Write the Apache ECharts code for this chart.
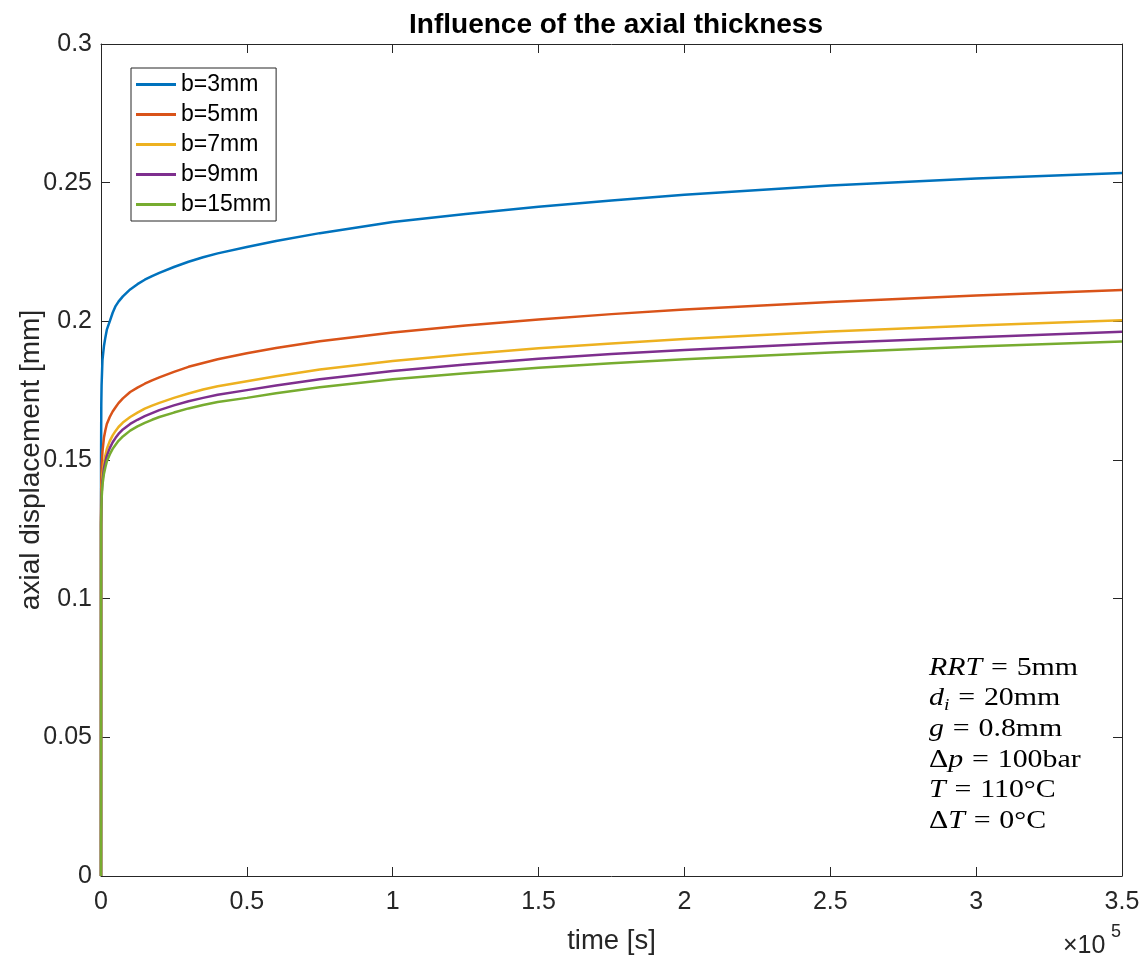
<!DOCTYPE html>
<html>
<head>
<meta charset="utf-8">
<script src="https://cdn.jsdelivr.net/npm/echarts@6/dist/echarts.min.js"></script>
<style>
html,body{margin:0;padding:0;background:#fff;}
#chart{width:1148px;height:956px;}
</style>
</head>
<body>
<div id="chart"></div>
<script>
// time in seconds
const timeS = [0, 20, 100, 200, 500, 1000, 1500, 2000, 3000, 4000, 5000, 6000, 7500, 10000, 12500, 15000, 17500, 20000, 25000, 30000, 35000, 40000, 50000, 60000, 75000, 100000, 125000, 150000, 175000, 200000, 250000, 300000, 350000];
const seriesNames = ['b=3mm', 'b=5mm', 'b=7mm', 'b=9mm', 'b=15mm'];
const b3 = [0, 0.150, 0.170, 0.177, 0.186, 0.191, 0.1942, 0.197, 0.200, 0.2031, 0.2055, 0.2071, 0.209, 0.2115, 0.2134, 0.2150, 0.2163, 0.2175, 0.2196, 0.2215, 0.2231, 0.2245, 0.2268, 0.2290, 0.2318, 0.2358, 0.2387, 0.2413, 0.2436, 0.2456, 0.2490, 0.2515, 0.2535];
const b5 = [0, 0.133, 0.143, 0.147, 0.153, 0.158, 0.1607, 0.163, 0.1655, 0.1675, 0.169, 0.1705, 0.1722, 0.1745, 0.1761, 0.1775, 0.1787, 0.1798, 0.1818, 0.1836, 0.1850, 0.1863, 0.1885, 0.1904, 0.1928, 0.1960, 0.1985, 0.2007, 0.2026, 0.2043, 0.2070, 0.2093, 0.2113];
const b7 = [0, 0.128, 0.135, 0.139, 0.145, 0.149, 0.1517, 0.154, 0.1568, 0.1589, 0.1605, 0.1619, 0.1635, 0.1655, 0.1671, 0.1685, 0.1696, 0.1706, 0.1724, 0.1740, 0.1754, 0.1766, 0.1784, 0.1802, 0.1826, 0.1857, 0.1881, 0.1903, 0.1920, 0.1936, 0.1963, 0.1985, 0.2004];
const b9 = [0, 0.127, 0.134, 0.1375, 0.1425, 0.147, 0.1494, 0.1515, 0.1543, 0.1564, 0.158, 0.1594, 0.161, 0.163, 0.1645, 0.1658, 0.1669, 0.1680, 0.1697, 0.1712, 0.1724, 0.1735, 0.1752, 0.1769, 0.1791, 0.1821, 0.1844, 0.1865, 0.1882, 0.1897, 0.1922, 0.1943, 0.1962];
const b15 = [0, 0.126, 0.1325, 0.136, 0.141, 0.145, 0.1474, 0.1495, 0.152, 0.1540, 0.1555, 0.1569, 0.1585, 0.1606, 0.1621, 0.1634, 0.1645, 0.1655, 0.1671, 0.1686, 0.1698, 0.1709, 0.1724, 0.1741, 0.1762, 0.1791, 0.1813, 0.1833, 0.1849, 0.1863, 0.1888, 0.1909, 0.1927];
const seriesValues = [b3, b5, b7, b9, b15];
const colors = ['#0072BD', '#D95319', '#EDB120', '#7E2F8E', '#77AC30'];
const xTickLabels = ['0', '0.5', '1', '1.5', '2', '2.5', '3', '3.5'];
const yTickLabels = ['0', '0.05', '0.1', '0.15', '0.2', '0.25', '0.3'];
const xMax = 350000, xInterval = 50000;
const yMax = 0.3, yInterval = 0.05;

const axisColor = '#262626';
const tickFont = 'Liberation Sans, Arial, sans-serif';

const chart = echarts.init(document.getElementById('chart'), null, {renderer: 'canvas'});

function xLab(v){ const i = Math.round(v / xInterval); return xTickLabels[i] ?? ''; }
function yLab(v){ const i = Math.round(v / yInterval); return yTickLabels[i] ?? ''; }

const baseAxis = {
  axisLine: {show: true, onZero: false, lineStyle: {color: axisColor, width: 1}},
  axisTick: {show: true, inside: true, length: 9, lineStyle: {color: axisColor, width: 1}},
  splitLine: {show: false}
};

const option = {
  animation: false,
  backgroundColor: '#fff',
  color: colors,
  title: {
    text: 'Influence of the axial thickness',
    left: 611, top: 6, textAlign: 'center',
    textStyle: {fontFamily: tickFont, fontSize: 28, fontWeight: 'bold', color: '#000'}
  },
  grid: {left: 101, right: 26, top: 44, bottom: 80, outerBoundsMode: 'none', containLabel: false},
  legend: {
    orient: 'vertical', left: 131, top: 68,
    padding: [5, 5, 5, 5],
    itemWidth: 40, itemHeight: 3, itemGap: 7,
    icon: 'rect',
    borderColor: axisColor, borderWidth: 1, backgroundColor: '#fff',
    textStyle: {fontFamily: tickFont, fontSize: 23, color: '#000', lineHeight: 22, padding: [0,0,0,0]},
    data: seriesNames
  },
  xAxis: [
    Object.assign({}, baseAxis, {
      type: 'value', min: 0, max: xMax, interval: xInterval, position: 'bottom',
      axisLabel: {formatter: xLab, fontFamily: tickFont, fontSize: 25, color: axisColor, margin: 14},
      name: 'time [s]', nameLocation: 'middle', nameGap: 51, nameMoveOverlap: false,
      nameTextStyle: {fontFamily: tickFont, fontSize: 27.5, color: axisColor}
    }),
    Object.assign({}, baseAxis, {
      type: 'value', min: 0, max: xMax, interval: xInterval, position: 'top',
      axisLabel: {show: false}
    })
  ],
  yAxis: [
    Object.assign({}, baseAxis, {
      type: 'value', min: 0, max: yMax, interval: yInterval, position: 'left',
      axisLabel: {formatter: yLab, fontFamily: tickFont, fontSize: 25, color: axisColor, margin: 9},
      name: 'axial displacement [mm]', nameLocation: 'middle', nameGap: 56, nameMoveOverlap: false,
      nameTextStyle: {fontFamily: tickFont, fontSize: 28, color: axisColor}
    }),
    Object.assign({}, baseAxis, {
      type: 'value', min: 0, max: yMax, interval: yInterval, position: 'right',
      axisLabel: {show: false}
    })
  ],
  series: seriesNames.map((n, k) => ({
    name: n, type: 'line', xAxisIndex: 0, yAxisIndex: 0,
    showSymbol: false, symbol: 'none', smooth: false,
    lineStyle: {width: 2.5, color: colors[k]},
    itemStyle: {color: colors[k]},
    data: timeS.map((t, i) => [t, seriesValues[k][i]])
  })),
  graphic: []
};

// annotation (LaTeX-like)
const serif = 'Liberation Serif, Times New Roman, serif';
const annLines = [
  '{it|RRT}{eq|=}5mm',
  '{it|d}{sub|i}{eq|=}20mm',
  '{it|g}{eq|=}0.8mm',
  'Δ{it|p}{eq|=}100bar',
  '{it|T}{eq|=}110°C',
  'Δ{it|T}{eq|=}0°C'
];
annLines.forEach((s, i) => {
  option.graphic.push({
    type: 'text', x: 929, y: 668 + 30.6 * i, z: 100, scaleX: 1.15, scaleY: 1,
    style: {
      text: s, fontFamily: serif, fontSize: 26, fill: '#000', verticalAlign: 'middle',
      rich: {
        it: {fontStyle: 'italic', fontFamily: serif, fontSize: 26, lineHeight: 30},
        eq: {fontFamily: serif, fontSize: 26, width: 30, align: 'center', lineHeight: 30},
        sub: {fontStyle: 'italic', fontFamily: serif, fontSize: 17, lineHeight: 17, verticalAlign: 'bottom'}
      },
      lineHeight: 30
    }
  });
});
// x10^5 exponent
option.graphic.push({
  type: 'text', left: 1063, top: 934, z: 100,
  style: {text: '×10', fontFamily: tickFont, fontSize: 25, fill: axisColor}
});
option.graphic.push({
  type: 'text', left: 1111, top: 923, z: 100,
  style: {text: '5', fontFamily: tickFont, fontSize: 18, fill: axisColor}
});

chart.setOption(option);
</script>
</body>
</html>
